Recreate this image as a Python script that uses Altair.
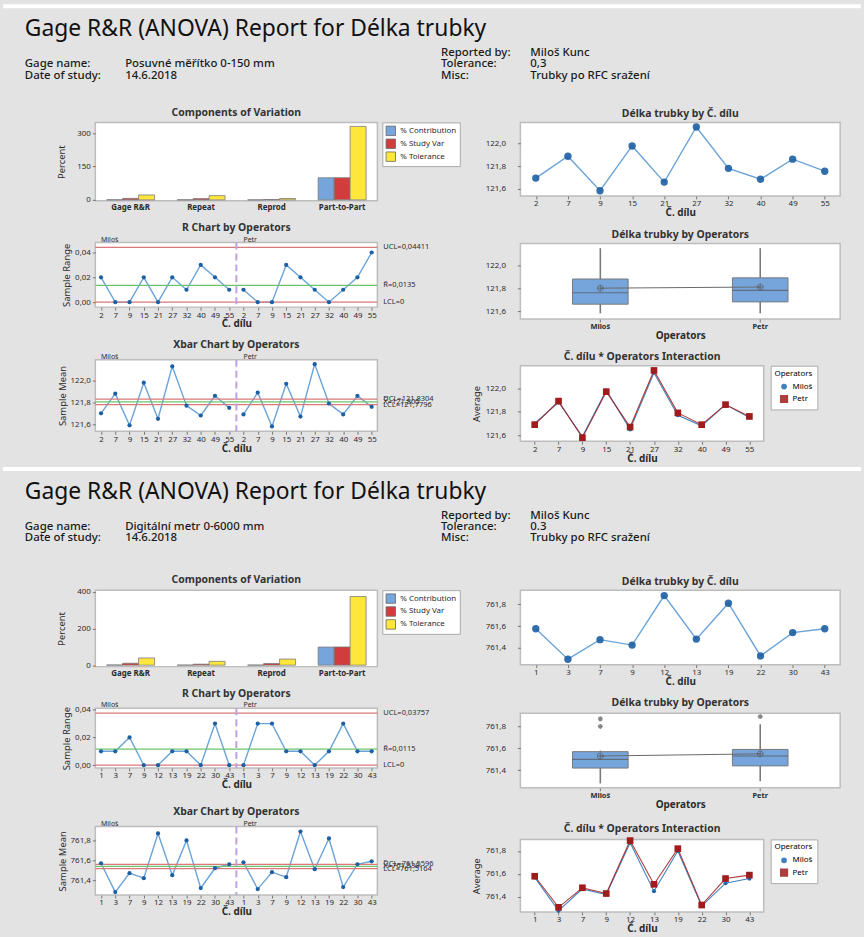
import altair as alt
import pandas as pd

FONT = "Noto Sans"
BG = "#e3e3e3"
FRAME = "#bdbdbd"
TXT = "#2b2b2b"
LINE_BLUE = "#6aa3d8"
DOT_BLUE = "#1d5fa3"
LIMIT_RED = "#d97a7a"
CENTER_GREEN = "#6cc46c"
DIVIDER = "#b9a3e3"
BOX_FILL = "#76a5dc"
MILOS_BLUE = "#1f6bb5"
PETR_RED = "#a01c1c"
COMP_COLORS = ["#76a5dc", "#d23c3c", "#ffe63b"]

TITLE = "Gage R&R (ANOVA) Report for Délka trubky"
SERIES = ["% Contribution", "% Study Var", "% Tolerance"]
COMPONENTS = ["Gage R&R", "Repeat", "Reprod", "Part-to-Part"]
OPERATORS = ["Miloš", "Petr"]

# ---------------- report 1: Posuvné měřítko ----------------
r1_info_left = ["Gage name:", "Date of study:"]
r1_info_left_val = ["Posuvné měřítko 0-150 mm", "14.6.2018"]
r1_info_right = ["Reported by:", "Tolerance:", "Misc:"]
r1_info_right_val = ["Miloš Kunc", "0,3", "Trubky po RFC sražení"]

r1_contribution = [0.44, 0.32, 0.04, 99.56]
r1_study_var = [6.6, 5.7, 1.9, 99.78]
r1_tolerance = [22.0, 19.0, 6.3, 331.0]

r1_parts = ["2", "7", "9", "15", "21", "27", "32", "40", "49", "55"]
r1_range_milos = [0.02, 0.00, 0.00, 0.02, 0.00, 0.02, 0.01, 0.03, 0.02, 0.01]
r1_range_petr = [0.01, 0.00, 0.00, 0.03, 0.02, 0.01, 0.00, 0.01, 0.02, 0.04]
r1_mean_milos = [121.70, 121.88, 121.59, 121.98, 121.65, 122.13, 121.77, 121.68, 121.86, 121.75]
r1_mean_petr = [121.69, 121.89, 121.58, 121.97, 121.67, 122.15, 121.79, 121.69, 121.86, 121.76]
r1_r_limits = [0.04411, 0.0135, 0.0]
r1_r_labels = ["UCL=0,04411", "R̄=0,0135", "LCL=0"]
r1_x_limits = [121.8304, 121.805, 121.7796]
r1_x_labels = ["UCL=121,8304", "X̿=121,805", "LCL=121,7796"]

r1_box_lo = [121.58, 121.58]
r1_box_q1 = [121.66, 121.68]
r1_box_med = [121.76, 121.78]
r1_box_q3 = [121.88, 121.89]
r1_box_hi = [122.15, 122.15]
r1_box_mean = [121.80, 121.81]
r1_out_op = []
r1_out_val = []

# ---------------- report 2: Digitální metr ----------------
r2_info_left = ["Gage name:", "Date of study:"]
r2_info_left_val = ["Digitální metr 0-6000 mm", "14.6.2018"]
r2_info_right = ["Reported by:", "Tolerance:", "Misc:"]
r2_info_right_val = ["Miloš Kunc", "0.3", "Trubky po RFC sražení"]

r2_contribution = [1.08, 0.30, 0.78, 98.92]
r2_study_var = [10.4, 5.5, 8.8, 99.46]
r2_tolerance = [39.3, 20.8, 33.2, 375.0]

r2_parts = ["1", "3", "7", "9", "12", "13", "19", "22", "30", "43"]
r2_range_milos = [0.01, 0.01, 0.02, 0.00, 0.00, 0.01, 0.01, 0.00, 0.03, 0.00]
r2_range_petr = [0.00, 0.03, 0.03, 0.01, 0.01, 0.00, 0.01, 0.03, 0.01, 0.01]
r2_mean_milos = [761.57, 761.28, 761.47, 761.42, 761.87, 761.45, 761.80, 761.32, 761.52, 761.56]
r2_mean_petr = [761.58, 761.31, 761.48, 761.43, 761.89, 761.51, 761.82, 761.33, 761.56, 761.59]
r2_r_limits = [0.03757, 0.0115, 0.0]
r2_r_labels = ["UCL=0,03757", "R̄=0,0115", "LCL=0"]
r2_x_limits = [761.5596, 761.538, 761.5164]
r2_x_labels = ["UCL=761,5596", "X̿=761,538", "LCL=761,5164"]

r2_box_lo = [761.28, 761.30]
r2_box_q1 = [761.42, 761.44]
r2_box_med = [761.50, 761.53]
r2_box_q3 = [761.57, 761.59]
r2_box_hi = [761.58, 761.82]
r2_box_mean = [761.53, 761.55]
r2_out_op = ["Miloš", "Miloš", "Petr"]
r2_out_val = [761.80, 761.87, 761.89]

CIRCLE_CROSS = "M-1,0A1,1 0 1,0 1,0A1,1 0 1,0 -1,0M-1,0L1,0M0,-1L0,1"
ASTERISK = "M-1,0L1,0M0,-1L0,1M-0.7,-0.7L0.7,0.7M-0.7,0.7L0.7,-0.7"

# plot areas of the left column start this far from the page's left edge
ORIGIN_X = 93
PAGE_W = 864


def comma(fmt):
    return f"replace(format(datum.value, '{fmt}'), '.', ',')"


def header(info_left, info_left_val, info_right, info_right_val, height):
    hidden = alt.ViewBackground(fill="transparent", stroke="transparent")
    # white strip that separates one report panel from the next
    band = alt.Chart(pd.DataFrame({"k": [0]})).mark_rule(color="white", strokeWidth=4).encode(
        x=alt.value(-ORIGIN_X), x2=alt.value(PAGE_W - ORIGIN_X), y=alt.value(1))
    t = alt.Chart(pd.DataFrame({"t": [TITLE]})).mark_text(
        align="left", baseline="alphabetic", font=FONT, fontSize=23, color="#111"
    ).encode(x=alt.value(22 - ORIGIN_X), y=alt.value(31), text="t:N")
    left = pd.DataFrame({"row": [1, 2], "lab": info_left, "val": info_left_val})
    right = pd.DataFrame({"row": [0, 1, 2], "lab": info_right, "val": info_right_val})
    yrow = alt.Y("row:Q", scale=alt.Scale(domain=[0, 2], range=[48, 71]), axis=None)
    txt = dict(align="left", baseline="middle", font=FONT, fontSize=11.5, color="#1a1a1a", fontWeight=500)
    layers = [band, t]
    for df, x0, x1 in [(left, 22, 123), (right, 441, 531)]:
        base = alt.Chart(df)
        layers.append(base.mark_text(**txt).encode(x=alt.value(x0 - ORIGIN_X), y=yrow, text="lab:N"))
        layers.append(base.mark_text(**txt).encode(x=alt.value(x1 - ORIGIN_X), y=yrow, text="val:N"))
    return alt.layer(*layers).properties(width=PAGE_W - ORIGIN_X, height=height, view=hidden)


def comp_chart(contrib, study, tol, ydom, yvals, width, height):
    df = pd.DataFrame({
        "component": COMPONENTS * 3,
        "series": [s for s in SERIES for _ in COMPONENTS],
        "value": contrib + study + tol,
    })
    return alt.Chart(df, title="Components of Variation").mark_bar(
        stroke="#7a7a7a", strokeWidth=0.8
    ).encode(
        x=alt.X("component:N", sort=COMPONENTS, title=None,
                scale=alt.Scale(paddingInner=0.32, paddingOuter=0.16),
                axis=alt.Axis(labelAngle=0, labelFontWeight="bold", labelFontSize=8, ticks=False,
                              labelPadding=3)),
        xOffset=alt.XOffset("series:N", sort=SERIES),
        y=alt.Y("value:Q", title="Percent", scale=alt.Scale(domain=ydom, nice=False, zero=False),
                axis=alt.Axis(values=yvals, titlePadding=10)),
        color=alt.Color("series:N", sort=SERIES,
                        scale=alt.Scale(domain=SERIES, range=COMP_COLORS),
                        legend=alt.Legend(title=None, orient="right", offset=5, symbolType="square",
                                          symbolSize=90, symbolStrokeColor="#666", symbolStrokeWidth=0.8,
                                          labelFontSize=8, labelFont=FONT, labelColor=TXT,
                                          fillColor="white", strokeColor="#aaaaaa", padding=3,
                                          rowPadding=0, labelLimit=90)),
    ).properties(width=width, height=height)


def control_chart(title, ytitle, parts, milos, petr, limits, labels, ydom, yvals, yfmt, width, height):
    n = len(parts)
    df = pd.DataFrame({
        "idx": list(range(2 * n)),
        "op": [OPERATORS[0]] * n + [OPERATORS[1]] * n,
        "v": milos + petr,
    })
    xs = alt.X("idx:Q", scale=alt.Scale(domain=[-0.4, 2 * n - 0.6], nice=False, zero=False),
               axis=alt.Axis(values=list(range(2 * n)), tickCount=2 * n, title="Č. dílu",
                             labelOverlap=False, labelFontSize=8, labelFlush=False,
                             labelExpr="split('" + ",".join(parts + parts) + "', ',')[datum.value]"))
    ys = alt.Y("v:Q", title=ytitle, scale=alt.Scale(domain=ydom, nice=False, zero=False),
               axis=alt.Axis(values=yvals, labelExpr=comma(yfmt), labelOverlap=False))
    base = alt.Chart(df)
    line = base.mark_line(color=LINE_BLUE, strokeWidth=1.4).encode(x=xs, y=ys, detail="op:N")
    pts = base.mark_circle(color=DOT_BLUE, size=18, opacity=1).encode(x=xs, y=ys)

    lim = pd.DataFrame({"v": limits, "label": labels, "kind": ["limit", "center", "limit"]})
    lbase = alt.Chart(lim)
    red = lbase.transform_filter("datum.kind == 'limit'").mark_rule(
        color=LIMIT_RED, strokeWidth=1.3).encode(y=ys)
    green = lbase.transform_filter("datum.kind == 'center'").mark_rule(
        color=CENTER_GREEN, strokeWidth=1.3).encode(y=ys)
    lab = lbase.mark_text(align="left", baseline="middle", font=FONT, fontSize=7.5, color=TXT).encode(
        x=alt.value(width + 6), y=ys, text="label:N")

    div = alt.Chart(pd.DataFrame({"idx": [n - 0.5]})).mark_rule(
        color=DIVIDER, strokeDash=[7, 4], strokeWidth=2).encode(x=xs)
    ops = alt.Chart(pd.DataFrame({"idx": [0, n], "op": OPERATORS})).mark_text(
        align="left", baseline="bottom", dy=0, font=FONT, fontSize=7, color=TXT
    ).encode(x=xs, y=alt.value(0), text="op:N")

    return alt.layer(line, red, green, div, pts, lab, ops,
                     title=alt.Title(title, offset=2)).properties(width=width, height=height)


def part_chart(parts, milos, petr, ydom, yvals, width, height):
    avg = [(a + b) / 2 for a, b in zip(milos, petr)]
    df = pd.DataFrame({"part": parts, "avg": avg})
    x = alt.X("part:N", sort=parts, scale=alt.Scale(padding=0.48),
              axis=alt.Axis(labelAngle=0, title="Č. dílu", labelOverlap=False))
    y = alt.Y("avg:Q", title=None, scale=alt.Scale(domain=ydom, nice=False, zero=False),
              axis=alt.Axis(values=yvals, labelExpr=comma(".1f"), labelPadding=12, labelOverlap=False))
    base = alt.Chart(df)
    line = base.mark_line(color=LINE_BLUE, strokeWidth=1.4).encode(x=x, y=y)
    pts = base.mark_circle(color=DOT_BLUE, size=55, opacity=0.9).encode(x=x, y=y)
    return alt.layer(line, pts, title="Délka trubky by Č. dílu").properties(width=width, height=height)


def box_chart(lo, q1, med, q3, hi, mean, out_op, out_val, ydom, yvals, width, height):
    df = pd.DataFrame({"op": OPERATORS, "lo": lo, "q1": q1, "med": med, "q3": q3, "hi": hi, "mean": mean})
    x = alt.X("op:N", sort=OPERATORS, scale=alt.Scale(paddingInner=0, paddingOuter=0),
              axis=alt.Axis(labelAngle=0, title="Operators", labelFontWeight="bold", labelFontSize=7.5))
    yscale = alt.Scale(domain=ydom, nice=False, zero=False)
    yaxis = alt.Axis(values=yvals, labelExpr=comma(".1f"), labelPadding=12, labelOverlap=False)

    def yy(field):
        return alt.Y(field, title=None, scale=yscale, axis=yaxis)

    base = alt.Chart(df)
    whisk = base.mark_rule(color="#7a7a7a", strokeWidth=1.6).encode(x=x, y=yy("lo:Q"), y2="hi:Q")
    box = base.mark_bar(size=56, fill=BOX_FILL, stroke="#7a7a7a", strokeWidth=1).encode(
        x=x, y=yy("q1:Q"), y2="q3:Q")
    medl = base.mark_tick(size=56, thickness=1.2, color="#555555").encode(x=x, y=yy("med:Q"))
    mline = base.mark_line(color="#6a6a6a", strokeWidth=1).encode(x=x, y=yy("mean:Q"))
    msym = base.mark_point(shape=CIRCLE_CROSS, size=35, color="#555555", strokeWidth=1).encode(
        x=x, y=yy("mean:Q"))
    layers = [whisk, box, medl, mline, msym]
    if out_val:
        out = alt.Chart(pd.DataFrame({"op": out_op, "v": out_val})).mark_point(
            shape=ASTERISK, size=25, color="#555555", strokeWidth=1.2).encode(x=x, y=yy("v:Q"))
        layers.append(out)
    return alt.layer(*layers, title="Délka trubky by Operators").properties(width=width, height=height)


def interaction_chart(parts, milos, petr, ydom, yvals, width, height):
    n = len(parts)
    df = pd.DataFrame({"part": parts + parts, "op": [OPERATORS[0]] * n + [OPERATORS[1]] * n,
                       "avg": milos + petr})
    x = alt.X("part:N", sort=parts, scale=alt.Scale(padding=0.6),
              axis=alt.Axis(labelAngle=0, title="Č. dílu", labelOverlap=False))
    y = alt.Y("avg:Q", title="Average", scale=alt.Scale(domain=ydom, nice=False, zero=False),
              axis=alt.Axis(values=yvals, labelExpr=comma(".1f"), labelPadding=12, labelOverlap=False,
                            titlePadding=4))
    leg = alt.Legend(title="Operators", titleFontSize=8, titleFontWeight="normal", titleFont=FONT,
                     labelFontSize=8, labelFont=FONT, orient="right", offset=7,
                     fillColor="white", strokeColor="#aaaaaa", padding=4, rowPadding=0,
                     symbolSize=45, titleAlign="right", titleAnchor="end", labelLimit=80)
    color = alt.Color("op:N", sort=OPERATORS, scale=alt.Scale(domain=OPERATORS, range=[MILOS_BLUE, PETR_RED]),
                      legend=leg)
    shape = alt.Shape("op:N", sort=OPERATORS, scale=alt.Scale(domain=OPERATORS, range=["circle", "square"]),
                      legend=leg)
    size = alt.Size("op:N", scale=alt.Scale(domain=OPERATORS, range=[18, 45]), legend=None)
    base = alt.Chart(df)
    line = base.mark_line(strokeWidth=1.1, opacity=0.85).encode(x=x, y=y, color=color)
    pts = base.mark_point(filled=True, opacity=1).encode(x=x, y=y, color=color, shape=shape, size=size)
    return alt.layer(line, pts, title="Č. dílu * Operators Interaction").properties(
        width=width, height=height)


IND = dict(color="independent", shape="independent", size="independent", x="independent", y="independent")


def report(info, comp, parts, rng, means, r_lim, x_lim, boxd, doms, hs, head_h, lsp, rsp):
    hd = header(*info, head_h)
    lower_left = alt.concat(
        control_chart("R Chart by Operators", "Sample Range", parts, rng[0], rng[1], r_lim[0], r_lim[1],
                      doms["r"], [0, 0.02, 0.04], ".2f", 284, hs[1]),
        control_chart("Xbar Chart by Operators", "Sample Mean", parts, means[0], means[1], x_lim[0], x_lim[1],
                      doms["x"], doms["x_vals"], ".1f", 284, hs[2]),
        columns=1, spacing=lsp[1],
    ).resolve_scale(color="independent", x="independent", y="independent")
    left = alt.concat(
        comp_chart(*comp, doms["comp"], doms["comp_vals"], 284, hs[0]),
        lower_left,
        columns=1, spacing=lsp[0],
    ).resolve_scale(color="independent", x="independent", y="independent")
    lower_right = alt.concat(
        box_chart(*boxd, doms["box"], doms["x_vals"], 322, hs[4]),
        interaction_chart(parts, means[0], means[1], doms["int"], doms["int_vals"], 245, hs[5]),
        columns=1, spacing=rsp[1], align="none",
    ).resolve_scale(**IND)
    right = alt.concat(
        part_chart(parts, means[0], means[1], doms["part"], doms["x_vals"], 322, hs[3]),
        lower_right,
        columns=1, spacing=rsp[0], align="none",
    ).resolve_scale(**IND)
    body = alt.hconcat(left, right, spacing=8).resolve_scale(**IND)
    return alt.vconcat(hd, body, spacing=4).resolve_scale(**IND)


rep1 = report(
    (r1_info_left, r1_info_left_val, r1_info_right, r1_info_right_val),
    (r1_contribution, r1_study_var, r1_tolerance),
    r1_parts, (r1_range_milos, r1_range_petr), (r1_mean_milos, r1_mean_petr),
    (r1_r_limits, r1_r_labels), (r1_x_limits, r1_x_labels),
    (r1_box_lo, r1_box_q1, r1_box_med, r1_box_q3, r1_box_hi, r1_box_mean, r1_out_op, r1_out_val),
    {"comp": [-4.5, 349], "comp_vals": [0, 150, 300], "r": [-0.004, 0.048],
     "x": [121.536, 122.19], "x_vals": [121.6, 121.8, 122.0], "part": [121.54, 122.18],
     "box": [121.53, 122.19], "int": [121.55, 122.19], "int_vals": [121.6, 121.8, 122.0]},
    [79, 65, 72, 74, 76, 76], 98, (9, 9), (10, 9),
)
rep2 = report(
    (r2_info_left, r2_info_left_val, r2_info_right, r2_info_right_val),
    (r2_contribution, r2_study_var, r2_tolerance),
    r2_parts, (r2_range_milos, r2_range_petr), (r2_mean_milos, r2_mean_petr),
    (r2_r_limits, r2_r_labels), (r2_x_limits, r2_x_labels),
    (r2_box_lo, r2_box_q1, r2_box_med, r2_box_q3, r2_box_hi, r2_box_mean, r2_out_op, r2_out_val),
    {"comp": [-8, 410], "comp_vals": [0, 200, 400], "r": [-0.002, 0.041],
     "x": [761.25, 761.94], "x_vals": [761.4, 761.6, 761.8], "part": [761.245, 761.93],
     "box": [761.24, 761.92], "int": [761.27, 761.90], "int_vals": [761.4, 761.6, 761.8]},
    [77, 60, 69, 75, 75, 73], 101, (9, 15), (10, 12),
)

chart = alt.vconcat(rep1, rep2, spacing=2).resolve_scale(**IND).properties(
    padding={"left": 0, "top": 0, "right": 0, "bottom": 0}, background=BG
).configure_view(
    fill="white", stroke=FRAME, strokeWidth=1.5
).configure_axis(
    grid=False, domain=False, labelFont=FONT, labelFontSize=8, labelColor=TXT,
    titleFont=FONT, titleFontSize=9.5, titleColor=TXT, titleFontWeight="normal",
    tickColor="#777777", tickSize=3, labelPadding=2, titlePadding=3, labelOverlap=False
).configure_axisX(
    labelPadding=1, titlePadding=0, titleFontSize=10, titleFontWeight="bold"
).configure_title(
    font=FONT, fontSize=10.5, fontWeight="bold", color="#333333", offset=3
)

chart.save("out.html", embed_options={"renderer": "svg", "actions": False})
